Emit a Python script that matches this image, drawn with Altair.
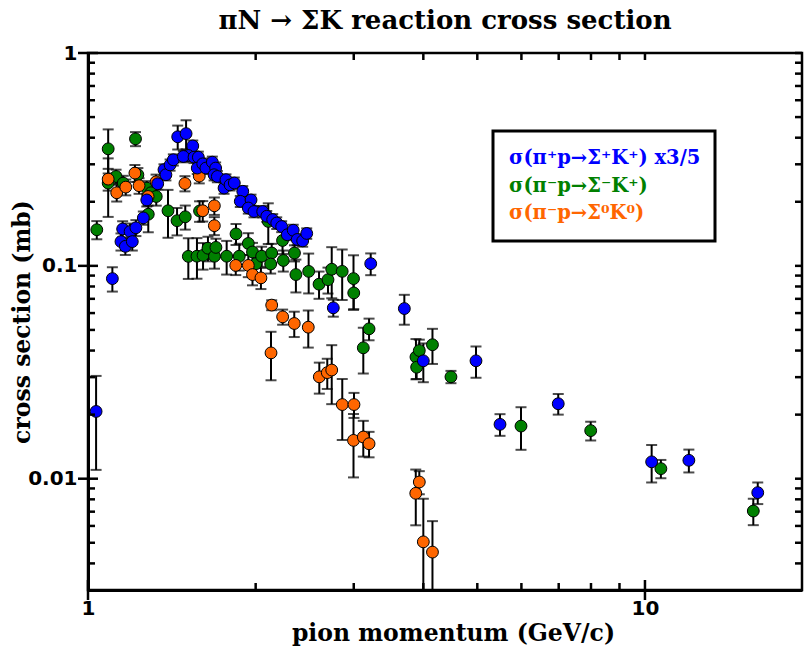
import altair as alt
import pandas as pd

labels = ["σ(π⁺p→Σ⁺K⁺) x3/5", "σ(π⁻p→Σ⁻K⁺)", "σ(π⁻p→Σ⁰K⁰)"]
colors = ["#0000ff", "#008000", "#ff6600"]

# sigma(pi+ p -> Sigma+ K+) x 3/5
blue_p = [1.034, 1.106, 1.146, 1.154, 1.167, 1.190, 1.201, 1.219, 1.257, 1.275,
          1.334, 1.369, 1.380, 1.404, 1.423, 1.449, 1.500, 1.542, 1.514, 1.483,
          1.550, 1.578, 1.571, 1.607, 1.628, 1.672, 1.695, 1.684, 1.707, 1.755,
          1.769, 1.799, 1.831, 1.896, 1.877, 1.962, 1.940, 1.986, 2.059, 2.094,
          2.146, 2.182, 2.227, 2.279, 2.336, 2.375, 2.429, 2.470, 2.757, 3.218,
          3.698, 4.00, 4.973, 5.492, 6.987, 10.28, 11.99, 15.94]
blue_sigma = [0.0207, 0.0871, 0.130, 0.149, 0.1235, 0.145, 0.130, 0.151, 0.168, 0.204,
              0.243, 0.283, 0.268, 0.298, 0.315, 0.404, 0.418, 0.366, 0.330, 0.3265,
              0.324, 0.324, 0.288, 0.3015, 0.288, 0.307, 0.288, 0.268, 0.263, 0.232,
              0.254, 0.240, 0.245, 0.224, 0.201, 0.204, 0.187, 0.180, 0.180, 0.171,
              0.165, 0.159, 0.153, 0.140, 0.147, 0.133, 0.131, 0.142, 0.0635, 0.1024,
              0.063, 0.0358, 0.0358, 0.018, 0.0225, 0.0120, 0.0122, 0.0086]
blue_err = [0.0097, 0.0114, 0.012, 0.013, 0.011, 0.013, 0.012, 0.013, 0.012, 0.014,
            0.015, 0.017, 0.016, 0.018, 0.019, 0.052, 0.065, 0.022, 0.020, 0.020,
            0.020, 0.020, 0.018, 0.018, 0.018, 0.019, 0.018, 0.016, 0.016, 0.014,
            0.015, 0.014, 0.015, 0.013, 0.012, 0.012, 0.011, 0.011, 0.011, 0.010,
            0.010, 0.010, 0.009, 0.008, 0.009, 0.008, 0.008, 0.008, 0.0058, 0.012,
            0.0101, 0.0074, 0.006, 0.0021, 0.0025, 0.0024, 0.0015, 0.001]

# sigma(pi- p -> Sigma- K+)
green_p = [1.037, 1.087, 1.123, 1.087, 1.157, 1.217, 1.229, 1.275, 1.297, 1.326,
           1.283, 1.392, 1.445, 1.495, 1.586, 1.514, 1.569, 1.609, 1.642, 1.687,
           1.697, 1.774, 1.844, 1.869, 1.940, 1.974, 2.003, 2.050, 2.107, 2.137,
           2.128, 2.235, 2.242, 2.348, 2.362, 2.490, 2.599, 2.697, 2.739, 2.860,
           2.997, 3.000, 3.121, 3.196, 3.880, 3.934, 3.891, 4.154, 4.484, 5.99,
           7.99, 10.68, 15.65]
green_sigma = [0.1478, 0.3546, 0.263, 0.2448, 0.2448, 0.395, 0.268, 0.232, 0.2205, 0.2118,
               0.1748, 0.1815, 0.163, 0.170, 0.181, 0.1108, 0.111, 0.112, 0.121, 0.111,
               0.1221, 0.111, 0.1413, 0.111, 0.1274, 0.1162, 0.1024, 0.111, 0.1617, 0.1149,
               0.102, 0.1316, 0.106, 0.1149, 0.091, 0.0942, 0.082, 0.0861, 0.0964, 0.0942,
               0.0871, 0.0746, 0.0412, 0.0506, 0.0373, 0.040, 0.0334, 0.0426, 0.0301, 0.01767,
               0.01682, 0.01115, 0.00705]
green_err = [0.0145, 0.083, 0.020, 0.075, 0.020, 0.030, 0.020, 0.018, 0.018, 0.020,
             0.031, 0.046, 0.024, 0.022, 0.020, 0.024, 0.024, 0.016, 0.016, 0.014,
             0.012, 0.020, 0.016, 0.016, 0.015, 0.012, 0.012, 0.012, 0.035, 0.012,
             0.010, 0.018, 0.012, 0.010, 0.016, 0.020, 0.012, 0.012, 0.026, 0.025,
             0.025, 0.012, 0.010, 0.0059, 0.008, 0.005, 0.004, 0.008, 0.002, 0.004,
             0.0017, 0.0011, 0.001]

# sigma(pi- p -> Sigma0 K0)
orange_p = [1.087, 1.126, 1.169, 1.214, 1.235, 1.282, 1.325, 1.493, 1.584, 1.607,
            1.686, 1.686, 1.842, 1.940, 1.974, 2.044, 2.137, 2.131, 2.236, 2.346,
            2.486, 2.602, 2.689, 2.739, 2.861, 3.003, 2.997, 3.121, 3.196, 3.877,
            3.934, 4.00, 4.154]
orange_sigma = [0.2556, 0.2205, 0.2344, 0.2728, 0.238, 0.2118, 0.2483, 0.2438, 0.264, 0.1815,
                0.1915, 0.1544, 0.1005, 0.1005, 0.091, 0.0878, 0.0654, 0.039, 0.0576, 0.0536,
                0.0515, 0.0301, 0.0315, 0.0324, 0.0223, 0.0223, 0.01514, 0.0157, 0.0146, 0.00854,
                0.00965, 0.00505, 0.00452]
orange_err = [0.030, 0.020, 0.020, 0.025, 0.020, 0.020, 0.020, 0.020, 0.020, 0.020,
              0.018, 0.015, 0.010, 0.012, 0.010, 0.010, 0.0035, 0.010, 0.0047, 0.0073,
              0.0102, 0.005, 0.0051, 0.010, 0.0071, 0.003, 0.005, 0.003, 0.002, 0.0025,
              0.0012, 0.003, 0.0018]

x_ticks_minor = [2, 3, 4, 5, 6, 7, 8, 9]
x_ticks_major = [1, 10]
x_ticks_top = [2, 3, 4, 5, 6, 7, 8, 9, 10]
y_ticks_minor = [0.004, 0.005, 0.006, 0.007, 0.008, 0.009,
                 0.02, 0.03, 0.04, 0.05, 0.06, 0.07, 0.08, 0.09,
                 0.2, 0.3, 0.4, 0.5, 0.6, 0.7, 0.8, 0.9]
y_ticks_major = [0.01, 0.1, 1]

rows = []
# drawing order: green, orange, blue on top
for name, xs, ys, es in [(labels[1], green_p, green_sigma, green_err),
                         (labels[2], orange_p, orange_sigma, orange_err),
                         (labels[0], blue_p, blue_sigma, blue_err)]:
    for xv, yv, ev in zip(xs, ys, es):
        rows.append({"series": name, "p": xv, "sigma": yv, "lo": yv - ev, "hi": yv + ev})
df = pd.DataFrame(rows)

W, H = 714, 537
XT = "pion momentum (GeV/c)"
YT = "cross section (mb)"

xscale = alt.Scale(type="log", domain=[1, 19.14], nice=False)
yscale = alt.Scale(type="log", domain=[0.003, 1], nice=False)

xaxis = alt.Axis(values=x_ticks_major, format="~g", ticks=False, tickSize=0, grid=False,
                 domainWidth=3, domainColor="black", labelFlush=False, labelOverlap=False,
                 labelFont="DejaVu Sans", labelFontWeight="bold", labelFontSize=20,
                 labelColor="black", labelPadding=8,
                 titleFont="DejaVu Serif", titleFontWeight="bold", titleFontSize=23.5,
                 titleColor="black", titleX=365, titleY=43, titleBaseline="middle",
                 titleAlign="center")
yaxis = alt.Axis(values=y_ticks_major, format="~g", ticks=False, tickSize=0, grid=False,
                 domainWidth=3, domainColor="black", labelFlush=False, labelOverlap=False,
                 labelFont="DejaVu Sans", labelFontWeight="bold", labelFontSize=20,
                 labelColor="black", labelPadding=11, labelBaseline="middle",
                 titleFont="DejaVu Serif", titleFontWeight="bold", titleFontSize=23.5,
                 titleColor="black", titleX=-66, titleY=H / 2, titleAngle=270,
                 titleBaseline="middle", titleAlign="center")

bars = alt.Chart(df).mark_rule(color="black", strokeWidth=2, clip=True).encode(
    x=alt.X("p:Q", scale=xscale, axis=xaxis, title=XT),
    y=alt.Y("lo:Q", scale=yscale, axis=yaxis, title=YT),
    y2="hi:Q",
)
cap_lo = alt.Chart(df).mark_tick(color="black", orient="horizontal", size=11,
                                 thickness=2, clip=True).encode(
    x=alt.X("p:Q", title=XT), y=alt.Y("lo:Q", title=YT))
cap_hi = alt.Chart(df).mark_tick(color="black", orient="horizontal", size=11,
                                 thickness=2, clip=True).encode(
    x=alt.X("p:Q", title=XT), y=alt.Y("hi:Q", title=YT))

points = alt.Chart(df).mark_circle(size=140, stroke="black", strokeWidth=1, opacity=1).encode(
    x=alt.X("p:Q", title=XT),
    y=alt.Y("sigma:Q", title=YT),
    color=alt.Color("series:N", scale=alt.Scale(domain=labels, range=colors), legend=None),
)

def tick_layer(vals, chan, a, b):
    d = pd.DataFrame({"v": vals})
    m = alt.Chart(d).mark_rule(color="black", strokeWidth=2.5)
    if chan == "x":
        return m.encode(x=alt.X("v:Q", title=XT), y=alt.value(a), y2=alt.value(b))
    return m.encode(y=alt.Y("v:Q", title=YT), x=alt.value(a), x2=alt.value(b))

ticks = [
    tick_layer(x_ticks_minor, "x", H, H - 7),
    tick_layer(x_ticks_major, "x", H + 10, H - 10),
    tick_layer(x_ticks_top, "x", 0, 7),
    tick_layer(y_ticks_minor, "y", 0, 7),
    tick_layer(y_ticks_major, "y", -10, 10),
    tick_layer(y_ticks_minor + y_ticks_major, "y", W, W - 7),
]

box = alt.Chart(pd.DataFrame({"k": [0]})).mark_rect(
    fill="white", stroke="black", strokeWidth=3).encode(
    x=alt.value(405), x2=alt.value(627), y=alt.value(78), y2=alt.value(188))

legend_rows = [105, 133, 160]
texts = []
for lab, col, yy in zip(labels, colors, legend_rows):
    texts.append(alt.Chart(pd.DataFrame({"t": [lab]})).mark_text(
        align="left", baseline="middle", font="DejaVu Serif", fontWeight="bold",
        fontSize=19.5, color=col).encode(text="t:N", x=alt.value(421), y=alt.value(yy)))

chart = alt.layer(bars, cap_lo, cap_hi, points, *ticks, box, *texts).properties(
    width=W, height=H,
    title=alt.TitleParams("πN → ΣK reaction cross section", font="DejaVu Serif",
                          fontSize=26, fontWeight="bold", color="black",
                          anchor="middle", frame="group", offset=9),
    autosize=alt.AutoSizeParams(type="none"),
    padding={"left": 80, "top": 45, "right": 2, "bottom": 56},
).configure_view(stroke="black", strokeWidth=2.5)

chart.save("out.html", embed_options={"renderer": "svg", "actions": False})
